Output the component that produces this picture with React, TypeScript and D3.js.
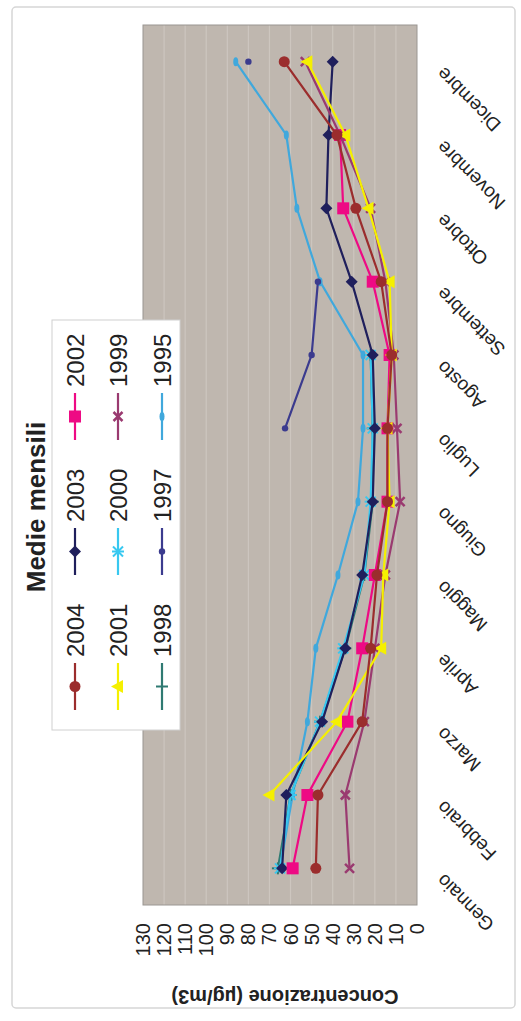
import React from "react";
import * as d3 from "d3";

const months = ["Gennaio","Febbraio","Marzo","Aprile","Maggio","Giugno","Luglio","Agosto","Settembre","Ottobre","Novembre","Dicembre"];
const ticks = [0,10,20,30,40,50,60,70,80,90,100,110,120,130];

const s2004 = [48,47,26,22,19,14,14,12,17,29,38,63];
const s2003 = [64,62,45,34,26,21,20,21,31,43,42,40];
const s2002 = [59,52,33,26,20,14,14,13,21,35,36.5,null];
const s2001 = [null,70,38,17,16,13,14,12,13,23,34,52];
const s2000 = [65,60,46,35,25,22,21,22,null,null,null,null];
const s1999 = [32,34,25,20,15,8,9.5,11,15,22,36.5,53];
const s1998 = [66,60,46,34,25,21,21,22,null,null,null,null];
const s1997 = [null,null,null,null,null,null,62.6,50,47,null,null,80];
const s1995 = [65,59,52,48,37.5,28,25.6,25.6,46,57,62,86];

const seriesNames = ["2004","2003","2002","2001","2000","1999","1998","1997","1995"];
const seriesData = [s2004,s2003,s2002,s2001,s2000,s1999,s1998,s1997,s1995];
const seriesColors = ["#9b2d2d","#1f1f5c","#ee0a84","#f5f000","#38c8f0","#9a3a70","#2f7a72","#3b3b8e","#40a8dc"];
const seriesMarkers = ["circle","diamond","square","triangle","asterisk","x","plus","dot","dash"];

// draw order: back to front
const drawOrder = [8,7,6,4,1,2,5,3,0];

function Marker({ type, cx, cy, color }: { type: string; cx: number; cy: number; color: string }) {
  switch (type) {
    case "circle":
      return <circle cx={cx} cy={cy} r={5.5} fill={color} />;
    case "diamond":
      return <polygon points={`${cx},${cy - 6} ${cx + 6},${cy} ${cx},${cy + 6} ${cx - 6},${cy}`} fill={color} />;
    case "square":
      return <rect x={cx - 6} y={cy - 6} width={12} height={12} fill={color} />;
    case "triangle":
      return <polygon points={`${cx - 7},${cy} ${cx + 5},${cy - 6.5} ${cx + 5},${cy + 6.5}`} fill={color} />;
    case "asterisk":
      return (
        <g stroke={color} strokeWidth={2}>
          <line x1={cx - 5} y1={cy - 5} x2={cx + 5} y2={cy + 5} />
          <line x1={cx - 5} y1={cy + 5} x2={cx + 5} y2={cy - 5} />
          <line x1={cx - 6} y1={cy} x2={cx + 6} y2={cy} />
        </g>
      );
    case "x":
      return (
        <g stroke={color} strokeWidth={2.5}>
          <line x1={cx - 4.5} y1={cy - 4.5} x2={cx + 4.5} y2={cy + 4.5} />
          <line x1={cx - 4.5} y1={cy + 4.5} x2={cx + 4.5} y2={cy - 4.5} />
        </g>
      );
    case "plus":
      return (
        <g stroke={color} strokeWidth={2}>
          <line x1={cx - 6} y1={cy} x2={cx + 6} y2={cy} />
          <line x1={cx} y1={cy - 6} x2={cx} y2={cy + 6} />
        </g>
      );
    case "dot":
      return <circle cx={cx} cy={cy} r={3.2} fill={color} />;
    case "dash":
      return <ellipse cx={cx} cy={cy} rx={2.5} ry={4.5} fill={color} />;
    default:
      return null;
  }
}

export default function App() {
  const W = 521, H = 1021;
  const plot = { left: 143, right: 417, top: 25, bottom: 905 };
  const x = d3.scaleLinear().domain([0, 130]).range([plot.right, plot.left]);
  const y = d3.scaleBand().domain(months).range([plot.bottom, plot.top]);
  const yc = (m: string) => (y(m) as number) + y.bandwidth() / 2;
  const font = "'Liberation Sans', Arial, sans-serif";

  const line = d3
    .line<number | null>()
    .defined((d) => d != null)
    .x((d) => x(d as number))
    .y((_, i) => yc(months[i]));

  const legendCols = [75, 118, 162];
  const legendLine = [[663, 710], [528, 575], [393, 440]];
  const legendTextY = [657, 522, 387];

  return (
    <svg width={W} height={H} style={{ display: "block", position: "absolute", left: 0, top: 0 }} fontFamily={font}>
      <rect x={0} y={0} width={W} height={H} fill="#ffffff" />
      <rect x={12} y={7} width={503} height={1001} rx={4} fill="#ffffff" stroke="#d6d6d6" strokeWidth={1.5} />

      {/* plot area */}
      <rect x={plot.left} y={plot.top} width={plot.right - plot.left} height={plot.bottom - plot.top} fill="#bfb7af" />
      {ticks.slice(1, -1).map((t) => (
        <line key={t} x1={x(t)} x2={x(t)} y1={plot.top} y2={plot.bottom} stroke="#cdc6bf" strokeWidth={1.2} />
      ))}
      <rect x={plot.left} y={plot.top} width={plot.right - plot.left} height={plot.bottom - plot.top} fill="none" stroke="#9a9692" strokeWidth={1} />

      {/* series */}
      {drawOrder.map((si) => (
        <g key={seriesNames[si]}>
          <path d={line(seriesData[si] as (number | null)[]) || ""} fill="none" stroke={seriesColors[si]} strokeWidth={2.2} />
          {seriesData[si].map((v, i) =>
            v == null ? null : (
              <Marker key={i} type={seriesMarkers[si]} cx={x(v)} cy={yc(months[i])} color={seriesColors[si]} />
            )
          )}
        </g>
      ))}

      {/* value axis tick labels */}
      {ticks.map((t) => (
        <text key={t} transform={`translate(${x(t)},923) rotate(-90)`} textAnchor="end" dominantBaseline="central" fontSize={20} fill="#222">
          {t}
        </text>
      ))}
      <text transform="translate(285,997) rotate(180)" textAnchor="middle" dominantBaseline="central" fontSize={20} fontWeight="bold" fill="#222">
        Concentrazione (µg/m3)
      </text>

      {/* month labels */}
      {months.map((m) => (
        <text key={m} transform={`translate(441,${yc(m) + 8}) rotate(225)`} textAnchor="end" dominantBaseline="middle" fontSize={19} fill="#222">
          {m}
        </text>
      ))}

      {/* title */}
      <text transform="translate(36,507) rotate(-90)" textAnchor="middle" dominantBaseline="central" fontSize={26} fontWeight="bold" fill="#222">
        Medie mensili
      </text>

      {/* legend */}
      <rect x={52} y={320} width={128} height={410} fill="#ffffff" stroke="#d0d0d0" strokeWidth={1} />
      {seriesNames.map((name, si) => {
        const col = Math.floor(si / 3);
        const row = si % 3;
        const lx = legendCols[col];
        const [y1, y2] = legendLine[row];
        return (
          <g key={name}>
            <line x1={lx} x2={lx} y1={y1} y2={y2} stroke={seriesColors[si]} strokeWidth={2.2} />
            <Marker type={seriesMarkers[si]} cx={lx} cy={(y1 + y2) / 2} color={seriesColors[si]} />
            <text transform={`translate(${lx},${legendTextY[row]}) rotate(-90)`} textAnchor="start" dominantBaseline="central" fontSize={24} fill="#222">
              {name}
            </text>
          </g>
        );
      })}
    </svg>
  );
}
